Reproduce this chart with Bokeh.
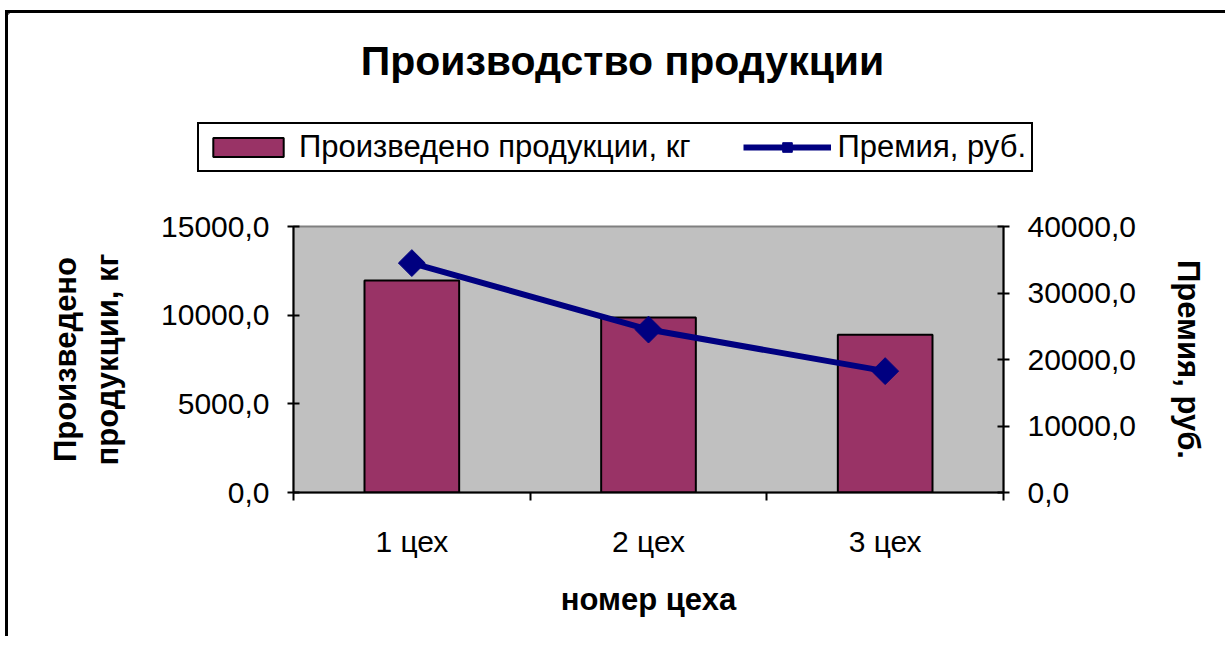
import numpy as np
from bokeh.plotting import figure
from bokeh.layouts import column
from bokeh.models import (Range1d, LinearAxis, FixedTicker, Legend, LegendItem, Label,
                          ColumnDataSource)
from bokeh.embed import file_html
from bokeh.resources import INLINE

# ---- data ----
categories = ["1 цех", "2 цех", "3 цех"]
produced_kg = [11950, 9870, 8900]
bonus_rub = [34500, 24500, 18250]
left_ticks = [0, 5000, 10000, 15000]
right_ticks = [0, 10000, 20000, 30000, 40000]

title_text = "Производство продукции"
bar_name = "Произведено продукции, кг"
line_name = "Премия, руб."
x_title = "номер цеха"
left_title = "Произведено\nпродукции, кг"
right_title = "Премия, руб."

FONT = "Liberation Sans"
BAR = "#993366"
NAVY = "#000080"
W = 1220
HDR_H = 186
MAIN_H = 440

def fmt(v):
    return f"{v:.1f}".replace(".", ",")

xs = list(range(1, len(categories) + 1))
src = ColumnDataSource(dict(x=xs, prod=produced_kg, bonus=bonus_rub))

# ---------------- header: title + legend ----------------
hdr = figure(width=W, height=HDR_H, output_backend="svg", toolbar_location=None,
             x_range=Range1d(0, W), y_range=Range1d(0, HDR_H),
             x_axis_type=None, y_axis_type=None,
             min_border_left=0, min_border_right=0, min_border_top=0, min_border_bottom=0)
hdr.styles = {"border-left": "3px solid black", "border-top": "3px solid black",
              "margin-left": "5px", "margin-top": "10px"}
hdr.outline_line_color = None
hdr.background_fill_color = "white"
hdr.border_fill_color = "white"
hdr.xgrid.visible = False
hdr.ygrid.visible = False

hdr.add_layout(Label(x=614, y=HDR_H - 47, text=title_text, text_font=FONT,
                     text_font_size="41px", text_font_style="bold", text_color="black",
                     text_align="center", text_baseline="middle"))

# legend keys: the same series, mapped onto ranges that lie outside the header's view
hdr.extra_x_ranges = {"key": Range1d(100, 200)}
hdr.extra_y_ranges = {"key": Range1d(-200000, -100000)}
leg_bar = hdr.vbar(x="x", top="prod", width=0.4, source=src, x_range_name="key",
                   y_range_name="key", fill_color=BAR, line_color="black", line_width=2)
leg_line = hdr.line(x="x", y="bonus", source=src, x_range_name="key", y_range_name="key",
                    line_color=NAVY, line_width=6)
leg_mark = hdr.scatter(x="x", y="bonus", source=src, x_range_name="key", y_range_name="key",
                       marker="square", angle=np.pi / 4, fill_color=NAVY, line_color=NAVY)
legend = Legend(items=[LegendItem(label=bar_name, renderers=[leg_bar]),
                       LegendItem(label=line_name, renderers=[leg_line, leg_mark])],
                orientation="horizontal", location=(189, HDR_H - 159),
                label_text_font=FONT, label_text_font_size="31px", label_text_color="black",
                glyph_width=88, glyph_height=24, label_standoff=7, spacing=52,
                padding=5, margin=0, border_line_color="black", border_line_width=2,
                border_line_alpha=1.0,
                background_fill_color="white", background_fill_alpha=1.0)
hdr.add_layout(legend, "center")

# ---------------- main chart ----------------
p = figure(width=W, height=MAIN_H, output_backend="svg", toolbar_location=None,
           x_range=Range1d(0.5, len(categories) + 0.5), y_range=Range1d(0, 15000),
           min_border_left=285, min_border_right=225, min_border_top=30, min_border_bottom=144)
p.styles = {"border-left": "3px solid black", "margin-left": "5px"}
p.background_fill_color = "#C0C0C0"
p.border_fill_color = "white"
p.outline_line_color = "#808080"
p.outline_line_width = 2
p.xgrid.visible = False
p.ygrid.visible = False

# keep the header's frame independent of the chart's frame
for fig in (hdr, p):
    try:
        fig.frame_align = False
    except Exception:
        pass

p.extra_y_ranges = {"prem": Range1d(0, 40000)}

p.vbar(x="x", top="prod", width=0.4, source=src, fill_color=BAR,
       line_color="black", line_width=2)
p.line(x="x", y="bonus", source=src, y_range_name="prem", line_color=NAVY, line_width=6)
p.scatter(x="x", y="bonus", source=src, y_range_name="prem", marker="square",
          angle=np.pi / 4, size=19, fill_color=NAVY, line_color=NAVY)

def style_axis(ax):
    ax.axis_line_color = "black"
    ax.axis_line_width = 2
    ax.major_tick_line_color = "black"
    ax.major_tick_line_width = 2
    ax.minor_tick_line_color = None
    ax.major_label_text_font = FONT
    ax.major_label_text_font_size = "30px"
    ax.major_label_text_color = "black"
    ax.axis_label_text_font = FONT
    ax.axis_label_text_font_size = "31px"
    ax.axis_label_text_font_style = "bold"
    ax.axis_label_text_color = "black"

# left axis
la = p.yaxis[0]
style_axis(la)
la.ticker = FixedTicker(ticks=left_ticks)
la.major_label_overrides = {t: fmt(t) for t in left_ticks}
la.major_tick_in = 6
la.major_tick_out = 6
la.major_label_standoff = 18
la.axis_label = left_title
la.axis_label_standoff = 33

# right axis
ra = LinearAxis(y_range_name="prem")
style_axis(ra)
ra.ticker = FixedTicker(ticks=right_ticks)
ra.major_label_overrides = {t: fmt(t) for t in right_ticks}
ra.major_tick_in = 6
ra.major_tick_out = 6
ra.major_label_standoff = 18
ra.axis_label = right_title
ra.axis_label_standoff = 32
p.add_layout(ra, "right")

# bottom axis: labels at category centres, ticks at category boundaries
ba = p.xaxis[0]
style_axis(ba)
bounds = [i + 0.5 for i in range(len(categories) + 1)]
ba.ticker = FixedTicker(ticks=xs, minor_ticks=bounds)
ba.major_label_overrides = {x: c for x, c in zip(xs, categories)}
ba.major_tick_line_color = None
ba.major_tick_in = 0
ba.major_tick_out = 8
ba.minor_tick_line_color = "black"
ba.minor_tick_line_width = 2
ba.minor_tick_in = 0
ba.minor_tick_out = 8
ba.major_label_standoff = 24
ba.axis_label = x_title
ba.axis_label_standoff = 21

layout = column(hdr, p, spacing=0)
open("out.html", "w").write(file_html(layout, INLINE))
